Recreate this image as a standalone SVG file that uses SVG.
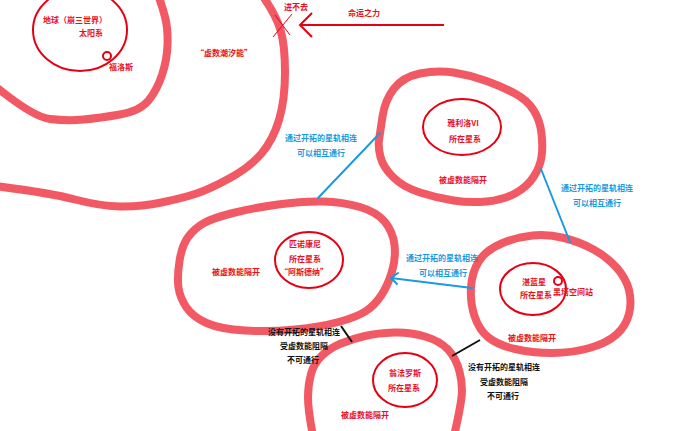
<svg xmlns="http://www.w3.org/2000/svg" width="690" height="431" viewBox="0 0 690 431">
<style>
.loop{fill:none;stroke:#f0505c;stroke-width:8;stroke-linecap:round;stroke-linejoin:round;opacity:0.95}
.sys{fill:none;stroke:#e60012;stroke-width:2}
.dot{fill:none;stroke:#e60012;stroke-width:2}
.t{font-family:"Noto Sans CJK SC","Liberation Sans",sans-serif;font-size:8px;font-weight:700;text-anchor:middle}
.r{fill:#e8101c}
.b{fill:#1a9be0}
.k{fill:#111}
.blue{stroke:#1a9be0;stroke-width:2;fill:none;stroke-linecap:round}
.blk{stroke:#111;stroke-width:2;fill:none}
</style>
<rect width="690" height="431" fill="#fff"/>
<g id="regions">
<path class="loop" d="M -5,86 Q 33,117 50,119 Q 67,121 83.5,119.5 Q 100,118 120,114.5 Q 140,111 148.5,100.5 Q 157,90 162,75 Q 167,60 167.5,45 Q 168,30 165.5,19 Q 163,8 158,-5"/>
<path class="loop" d="M -5,186 Q 50,193 75,199.5 Q 100,206 120,206.5 Q 140,207 161.5,202.5 Q 183,198 196.5,193.5 Q 210,189 230,178 Q 250,167 261.5,153.5 Q 273,140 279,120 Q 285,100 285,72.5 Q 285,45 280.5,30 Q 276,15 262,-5"/>
</g>
<g id="earth">
<ellipse class="sys" cx="80" cy="30" rx="47" ry="41"/>
<circle class="dot" cx="107" cy="56" r="4"/>
<text class="t r" x="75" y="23">地球（崩三世界）</text>
<text class="t r" x="91" y="36">太阳系</text>
<text class="t r" x="121" y="70">福洛斯</text>
</g>
<text class="t r" x="224" y="56">“虚数潮汐能”</text>
<g id="fate">
<line x1="273" y1="37" x2="292" y2="14" stroke="#e60012" stroke-width="1"/>
<line x1="275" y1="15" x2="290" y2="35" stroke="#e60012" stroke-width="1"/>
<text class="t r" x="296" y="10">进不去</text>
<line x1="300" y1="25" x2="444" y2="25" stroke="#e60012" stroke-width="2"/>
<polyline points="312,13 300,25 312,37" fill="none" stroke="#e60012" stroke-width="2"/>
<text class="t r" x="364" y="16">命运之力</text>
</g>
<g id="yaliluo">
<path class="loop" d="M 382.5,116.5 Q 385,100 394,88.5 Q 403,77 420,73.5 Q 437,70 453.5,72.5 Q 470,75 486.5,81 Q 503,87 515,93.5 Q 527,100 533.5,110 Q 540,120 541.5,133.5 Q 543,147 541.5,157 Q 540,167 533.5,177 Q 527,187 515,193.5 Q 503,200 486.5,201.5 Q 470,203 453.5,200.5 Q 437,198 420,192.5 Q 403,187 393,177 Q 383,167 380.5,157 Q 378,147 379,140 Q 380,133 382.5,116.5 Z"/>
<ellipse class="sys" cx="462" cy="127" rx="39" ry="28"/>
<text class="t r" x="463" y="126">雅利洛VI</text>
<text class="t r" x="465" y="142">所在星系</text>
<text class="t r" x="463" y="183">被虚数能隔开</text>
</g>
<g id="penacony">
<path class="loop" d="M 179.5,261 Q 182,245 188.5,236.5 Q 195,228 204,223 Q 213,218 233,213 Q 253,208 278,204.5 Q 303,201 323,201.5 Q 343,202 360,207 Q 377,212 385,222 Q 393,232 394.5,245 Q 396,258 392,271.5 Q 388,285 381.5,295 Q 375,305 366,311 Q 357,317 338.5,322 Q 320,327 295,329.5 Q 270,332 245,330.5 Q 220,329 206.5,323 Q 193,317 186.5,307.5 Q 180,298 178.5,287.5 Q 177,277 179.5,261 Z"/>
<ellipse class="sys" cx="309" cy="260" rx="34" ry="28"/>
<text class="t r" x="305" y="247">匹诺康尼</text>
<text class="t r" x="305" y="262">所在星系</text>
<text class="t r" x="304" y="275">“阿斯德纳”</text>
<text class="t r" x="236" y="275">被虚数能隔开</text>
</g>
<g id="zhanlan">
<path class="loop" d="M 532.5,235.5 Q 548,234 564,238 Q 580,242 593.5,249.5 Q 607,257 616.5,267.5 Q 626,278 629,290 Q 632,302 629,314 Q 626,326 616.5,334.5 Q 607,343 589.5,348 Q 572,353 552,353 Q 532,353 515,349 Q 498,345 488.5,337.5 Q 479,330 474.5,316 Q 470,302 471,287 Q 472,272 479,261 Q 486,250 501.5,243.5 Q 517,237 532.5,235.5 Z"/>
<ellipse class="sys" cx="533" cy="289" rx="33" ry="26"/>
<circle class="dot" cx="558" cy="281" r="4"/>
<text class="t r" x="534" y="285">湛蓝星</text>
<text class="t r" x="536" y="298">所在星系</text>
<text class="t r" x="573" y="295">黑塔空间站</text>
<text class="t r" x="532" y="341">被虚数能隔开</text>
</g>
<g id="amphoreus">
<path class="loop" d="M 313,436 Q 308,410 308,397.5 Q 308,385 311,374 Q 314,363 322,355.5 Q 330,348 341,343.5 Q 352,339 365,336 Q 378,333 394,332.5 Q 410,332 425,336.5 Q 440,341 448,349.5 Q 456,358 459.5,371.5 Q 463,385 461.5,397.5 Q 460,410 454,436"/>
<ellipse class="sys" cx="405" cy="380" rx="32" ry="27"/>
<text class="t r" x="405" y="376">翁法罗斯</text>
<text class="t r" x="404" y="391">所在星系</text>
<text class="t r" x="365" y="418">被虚数能隔开</text>
</g>
<g id="connectors">
<line class="blue" x1="318" y1="198" x2="380" y2="133"/>
<line class="blue" x1="541" y1="169" x2="570" y2="242"/>
<line class="blue" x1="472" y1="288" x2="391" y2="278"/>
<polyline class="blue" points="398,273 391,278 397,284"/>
<line class="blk" x1="341" y1="326" x2="352" y2="342"/>
<line class="blk" x1="452" y1="356" x2="480" y2="340"/>
<text class="t b" x="321" y="141">通过开拓的星轨相连</text>
<text class="t b" x="321" y="156">可以相互通行</text>
<text class="t b" x="597" y="191">通过开拓的星轨相连</text>
<text class="t b" x="597" y="206">可以相互通行</text>
<text class="t b" x="442" y="261">通过开拓的星轨相连</text>
<text class="t b" x="443" y="276">可以相互通行</text>
<text class="t k" x="304" y="335">没有开拓的星轨相连</text>
<text class="t k" x="304" y="349">受虚数能阻隔</text>
<text class="t k" x="303" y="363">不可通行</text>
<text class="t k" x="504" y="370">没有开拓的星轨相连</text>
<text class="t k" x="504" y="385">受虚数能阻隔</text>
<text class="t k" x="503" y="399">不可通行</text>
</g>
</svg>
